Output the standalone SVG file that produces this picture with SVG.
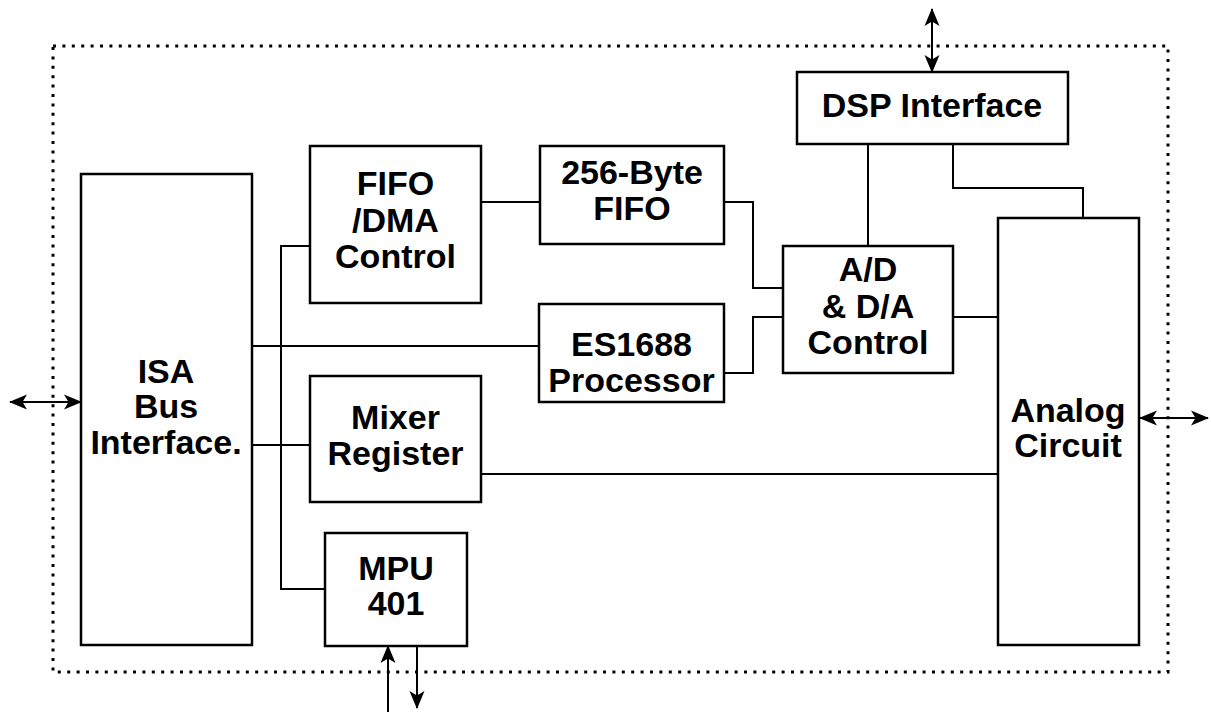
<svg xmlns="http://www.w3.org/2000/svg" width="1211" height="712" viewBox="0 0 1211 712">
<style>
.box{fill:#fff;stroke:#000;stroke-width:2.5}
.ln{fill:none;stroke:#000;stroke-width:2}
.t{font-family:"Liberation Sans",Arial,sans-serif;font-weight:bold;font-size:34px;text-anchor:middle;fill:#000}
</style>
<defs>
<marker id="ah" markerUnits="userSpaceOnUse" viewBox="0 0 18 16" markerWidth="18" markerHeight="16" refX="17" refY="8" orient="auto-start-reverse" overflow="visible">
<path d="M18,8 L0,0.5 L4.5,8 L0,15.5 Z" fill="#000"/>
</marker>
</defs>
<rect x="53" y="46" width="1115" height="626" fill="none" stroke="#000" stroke-width="3" stroke-dasharray="3 6.4"/>
<g id="connectors">
<path class="ln" d="M481,202 H540"/>
<path class="ln" d="M724,202 H753 V288 H783"/>
<path class="ln" d="M724,373 H753 V317 H783"/>
<path class="ln" d="M953,317 H998"/>
<path class="ln" d="M868,144 V246"/>
<path class="ln" d="M953,144 V188 H1083 V218"/>
<path class="ln" d="M252,346 H539"/>
<path class="ln" d="M252,445 H310"/>
<path class="ln" d="M310,246 H281 V589 H325"/>
<path class="ln" d="M481,474 H998"/>
<path class="ln" d="M10,402 H81" marker-start="url(#ah)" marker-end="url(#ah)"/>
<path class="ln" d="M1140,418 H1208" marker-start="url(#ah)" marker-end="url(#ah)"/>
<path class="ln" d="M932,9 V72" marker-start="url(#ah)" marker-end="url(#ah)"/>
<path class="ln" d="M388,712 V646" marker-end="url(#ah)"/>
<path class="ln" d="M417,646 V708" marker-end="url(#ah)"/>
</g>
<g id="isa">
<rect class="box" x="81" y="174" width="171" height="471"/>
<text class="t" x="166" y="383">ISA</text>
<text class="t" x="166" y="418">Bus</text>
<text class="t" x="166" y="454">Interface.</text>
</g>
<g id="fifodma">
<rect class="box" x="310" y="146" width="171" height="157"/>
<text class="t" x="395.5" y="195">FIFO</text>
<text class="t" x="395.5" y="232">/DMA</text>
<text class="t" x="395.5" y="268">Control</text>
</g>
<g id="fifo256">
<rect class="box" x="540" y="146" width="184" height="98"/>
<text class="t" x="632" y="184">256-Byte</text>
<text class="t" x="632" y="220">FIFO</text>
</g>
<g id="es1688">
<rect class="box" x="539" y="304" width="185" height="98"/>
<text class="t" x="631.5" y="356">ES1688</text>
<text class="t" x="631.5" y="392">Processor</text>
</g>
<g id="mixer">
<rect class="box" x="310" y="376" width="171" height="126"/>
<text class="t" x="395.5" y="429">Mixer</text>
<text class="t" x="395.5" y="465">Register</text>
</g>
<g id="mpu">
<rect class="box" x="325" y="533" width="142" height="113"/>
<text class="t" x="396" y="580">MPU</text>
<text class="t" x="396" y="615">401</text>
</g>
<g id="adda">
<rect class="box" x="783" y="246" width="170" height="127"/>
<text class="t" x="868" y="281">A/D</text>
<text class="t" x="868" y="318">&amp; D/A</text>
<text class="t" x="868" y="354">Control</text>
</g>
<g id="dsp">
<rect class="box" x="797" y="72" width="271" height="72"/>
<text class="t" x="932" y="117">DSP Interface</text>
</g>
<g id="analog">
<rect class="box" x="998" y="218" width="141" height="427"/>
<text class="t" x="1068" y="422">Analog</text>
<text class="t" x="1068" y="457">Circuit</text>
</g>
</svg>
